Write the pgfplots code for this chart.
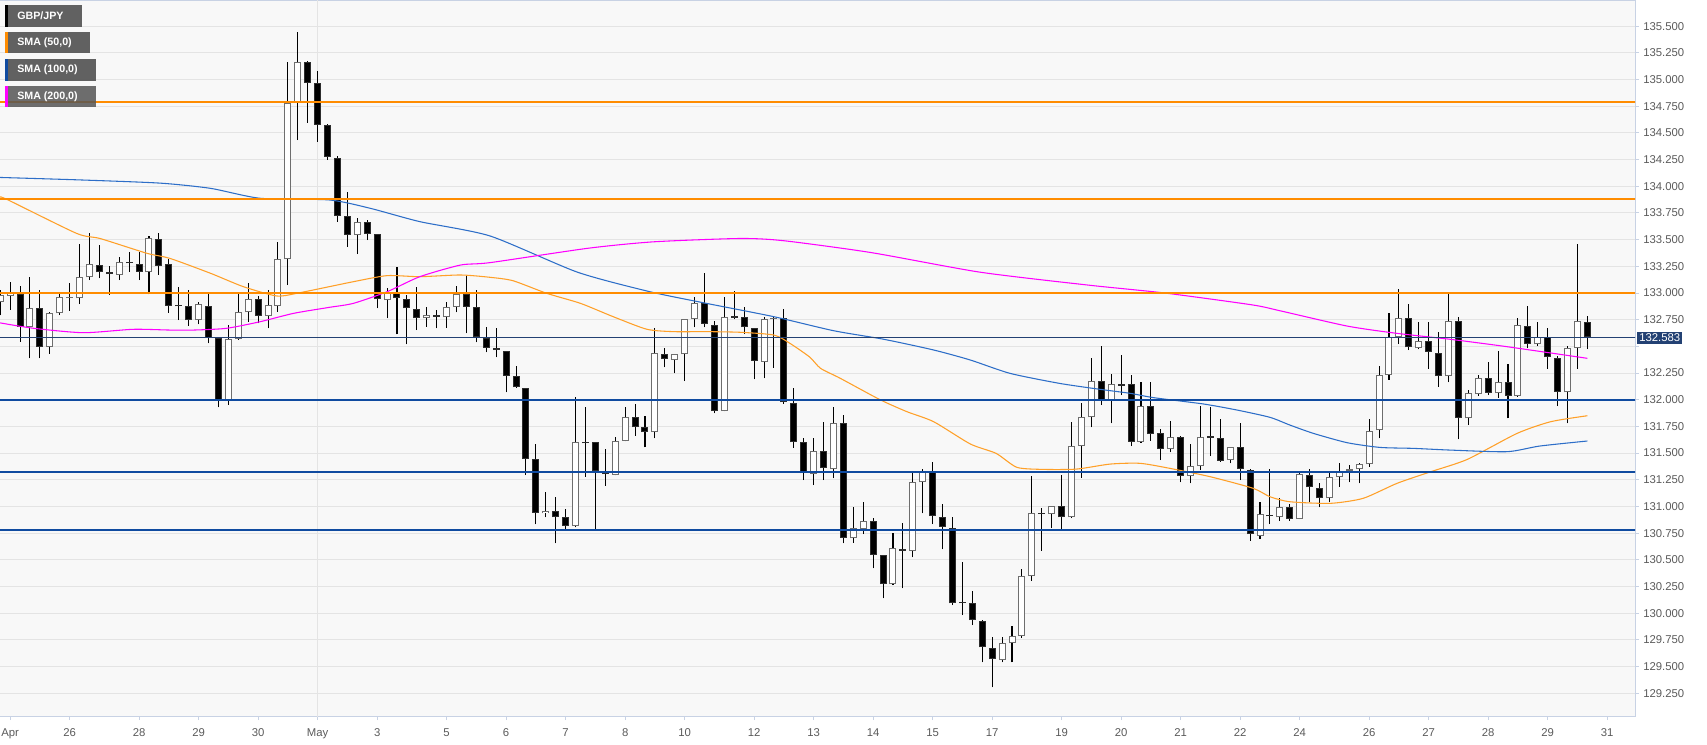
\documentclass[border=0pt]{standalone}
\usepackage{pgfplots}
\pgfplotsset{compat=1.18}
\usepackage{pgfplotstable}
\usepackage{fontspec}
\setmainfont{Liberation Sans}
\definecolor{bgc}{RGB}{248,248,248}
\definecolor{gridc}{RGB}{228,228,228}
\definecolor{bordc}{RGB}{200,210,228}
\definecolor{lvlorange}{RGB}{255,140,0}
\definecolor{lvlblue}{RGB}{16,75,160}
\definecolor{pricenavy}{RGB}{35,65,115}
\definecolor{smaA}{RGB}{255,160,40}
\definecolor{smaB}{RGB}{45,110,200}
\definecolor{smaC}{RGB}{255,0,255}
\definecolor{labc}{RGB}{90,90,90}
\definecolor{legbox}{RGB}{85,85,85}
\definecolor{bodyedge}{RGB}{110,110,110}
\definecolor{bearedge}{RGB}{45,45,45}

\pgfplotstableread{
i O H L C
0 132.920 133.030 132.790 132.980
1 132.975 133.107 132.841 132.997
3 132.685 133.154 132.388 132.857
5 132.498 132.826 132.429 132.810
6 132.810 132.997 132.794 132.960
7 132.952 133.091 132.835 132.967
8 132.950 133.457 132.897 133.147
9 133.147 133.566 133.122 133.269
12 133.169 133.335 133.122 133.294
15 133.194 133.535 132.988 133.513
20 132.747 132.919 132.707 132.894
23 131.988 132.700 131.951 132.566
24 132.566 132.997 132.560 132.819
25 132.819 133.091 132.732 132.944
27 132.785 133.029 132.669 132.888
28 132.882 133.481 132.825 133.316
29 133.316 135.168 133.075 134.784
30 134.784 135.450 134.434 135.168
36 133.543 133.700 133.365 133.662
39 132.934 133.050 132.762 132.996
43 132.762 132.872 132.684 132.793
45 132.772 132.918 132.675 132.872
46 132.872 133.069 132.818 132.987
55 130.935 131.132 130.897 130.960
58 130.816 132.022 130.804 131.607
62 131.297 131.647 131.290 131.616
63 131.616 131.935 131.610 131.835
66 131.694 132.669 131.638 132.435
68 132.372 132.430 132.247 132.425
69 132.425 132.760 132.175 132.756
70 132.756 132.966 132.678 132.903
73 131.894 132.960 131.890 132.772
77 132.356 132.778 132.200 132.753
78 132.753 132.778 132.300 132.769
82 131.303 131.638 131.200 131.522
84 131.350 131.928 131.263 131.778
86 130.700 130.997 130.660 130.794
87 130.788 131.038 130.741 130.866
90 130.269 130.747 130.263 130.607
92 130.585 131.309 130.522 131.231
93 131.225 131.347 130.935 131.325
101 129.560 129.779 129.538 129.716
102 129.716 129.879 129.538 129.785
103 129.785 130.410 129.770 130.347
104 130.347 131.285 130.304 130.935
106 130.929 131.004 130.794 131.004
108 130.897 131.794 130.890 131.569
109 131.569 131.966 131.269 131.834
110 131.834 132.387 131.741 132.175
112 131.991 132.237 131.778 132.144
115 131.606 132.163 131.597 131.941
118 131.538 131.800 131.506 131.653
120 131.288 131.581 131.216 131.381
121 131.378 131.941 131.341 131.653
124 131.435 131.560 131.403 131.560
127 130.726 131.044 130.694 130.925
129 130.897 131.075 130.863 130.997
131 130.882 131.316 130.880 131.300
134 131.076 131.310 131.038 131.278
135 131.278 131.404 131.185 131.335
136 131.333 131.388 131.225 131.348
137 131.347 131.410 131.216 131.397
138 131.394 131.816 131.372 131.710
139 131.716 132.319 131.638 132.232
140 132.232 132.816 132.185 132.591
141 132.591 133.034 132.522 132.763
143 132.481 132.731 132.472 132.553
146 132.222 132.997 132.163 132.737
148 131.825 132.091 131.763 132.060
149 132.053 132.231 132.035 132.206
151 132.060 132.456 132.019 132.169
153 132.038 132.762 132.028 132.700
155 132.519 132.725 132.503 132.591
158 132.069 132.503 131.778 132.488
159 132.488 133.456 132.288 132.737
}\bull

\pgfplotstableread{
i O H L C
2 132.988 133.066 132.544 132.685
4 132.857 133.028 132.388 132.498
10 133.263 133.450 133.138 133.194
11 133.194 133.253 132.982 133.178
13 133.294 133.388 133.200 133.278
14 133.272 133.388 133.122 133.200
16 133.506 133.560 133.169 133.257
17 133.269 133.320 132.816 132.879
18 132.890 133.060 132.747 132.875
19 132.882 133.029 132.691 132.747
21 132.882 132.991 132.529 132.582
22 132.576 132.576 131.929 131.998
26 132.944 132.972 132.716 132.785
31 135.168 135.175 134.597 134.972
32 134.972 135.081 134.419 134.575
33 134.575 134.580 134.247 134.278
34 134.270 134.280 133.668 133.721
35 133.721 133.950 133.434 133.543
37 133.662 133.684 133.496 133.553
38 133.550 133.550 132.856 132.940
40 132.996 133.240 132.612 132.950
41 132.940 132.981 132.519 132.856
42 132.850 133.059 132.653 132.762
44 132.792 132.840 132.669 132.777
47 132.987 133.168 132.622 132.872
48 132.866 133.028 132.537 132.584
49 132.575 132.684 132.444 132.487
50 132.482 132.669 132.397 132.466
51 132.460 132.460 132.069 132.225
52 132.222 132.319 132.110 132.116
53 132.113 132.113 131.294 131.444
54 131.444 131.582 130.832 130.941
56 130.957 131.091 130.654 130.897
57 130.897 130.972 130.788 130.819
59 131.607 131.928 131.278 131.592
60 131.607 131.607 130.785 131.332
61 131.320 131.535 131.194 131.303
64 131.835 131.957 131.663 131.741
65 131.741 131.850 131.554 131.694
67 132.428 132.481 132.303 132.378
71 132.903 133.184 132.678 132.710
72 132.700 132.741 131.872 131.894
74 132.780 133.022 132.753 132.765
75 132.772 132.866 132.616 132.678
76 132.669 132.670 132.191 132.363
79 132.769 132.847 131.960 131.975
80 131.972 132.107 131.550 131.600
81 131.600 131.638 131.247 131.310
83 131.522 131.794 131.247 131.356
85 131.778 131.856 130.653 130.707
88 130.863 130.888 130.419 130.544
89 130.544 130.544 130.138 130.269
91 130.600 130.841 130.232 130.585
94 131.319 131.413 130.835 130.910
95 130.903 131.019 130.597 130.810
96 130.800 130.903 130.075 130.091
97 130.107 130.482 129.982 130.091
98 130.098 130.210 129.888 129.935
99 129.929 129.940 129.538 129.679
100 129.670 129.773 129.304 129.570
105 130.942 130.982 130.585 130.928
107 131.004 131.294 130.788 130.897
111 132.175 132.503 131.950 131.991
113 132.147 132.419 132.044 132.131
114 132.144 132.231 131.566 131.606
116 131.944 132.163 131.616 131.678
117 131.684 131.725 131.435 131.538
119 131.653 131.663 131.225 131.288
122 131.660 131.928 131.472 131.645
123 131.638 131.816 131.420 131.428
125 131.560 131.778 131.247 131.350
126 131.341 131.347 130.679 130.741
128 130.920 131.347 130.835 130.906
130 130.991 131.022 130.866 130.882
132 131.294 131.347 131.038 131.178
133 131.169 131.216 130.991 131.076
142 132.763 132.897 132.466 132.491
144 132.553 132.731 132.288 132.450
145 132.440 132.631 132.122 132.222
147 132.737 132.772 131.628 131.831
150 132.206 132.350 132.044 132.066
152 132.163 132.331 131.825 132.038
154 132.694 132.878 132.481 132.522
156 132.591 132.669 132.288 132.397
157 132.388 132.409 131.941 132.075
160 132.731 132.787 132.475 132.584
}\bear

\pgfplotsset{
  errline/.style 2 args={draw=none, mark=none, forget plot,
    error bars/.cd, y dir=plus, y explicit, error mark=none,
    error bar style={draw=#1, line width=#2, line cap=butt, solid}},
}

\begin{document}
\begin{tikzpicture}
\path[use as bounding box] (0pt,-21pt) rectangle (1280.25pt,537pt);
\begin{axis}[
  at={(0pt,0pt)}, anchor=south west,
  scale only axis, width=1226.25pt, height=537pt,
  xmin=-0.02, xmax=164.8, ymin=129.036, ymax=135.746,
  axis background/.style={fill=bgc},
  axis line style={draw=bordc, line width=0.75pt},
  ymajorgrids, grid style={draw=gridc, line width=0.75pt},
  ytick={129.25,129.5,129.75,130,130.25,130.5,130.75,131,131.25,131.5,131.75,132,132.25,132.5,132.75,133,133.25,133.5,133.75,134,134.25,134.5,134.75,135,135.25,135.5},
  yticklabels={129.250,129.500,129.750,130.000,130.250,130.500,130.750,131.000,131.250,131.500,131.750,132.000,132.250,,132.750,133.000,133.250,133.500,133.750,134.000,134.250,134.500,134.750,135.000,135.250,135.500},
  ytick pos=right, yticklabel pos=right,
  xtick pos=bottom,
  tick align=outside, major tick length=3pt,
  tick style={draw=bordc, line width=0.75pt},
  yticklabel style={anchor=west, inner sep=0pt, xshift=3pt, text=labc, font=\fontsize{8.5}{10}\selectfont},
  xtick={1,7,14,20,26,32,38,45,51,57,63,69,76,82,88,94,100,107,113,119,125,131,138,144,150,156,162},
  xticklabels={Apr,26,28,29,30,May,3,5,6,7,8,10,12,13,14,15,17,19,20,21,22,24,26,27,28,29,31},
  xticklabel style={anchor=north, inner sep=0pt, yshift=-6.5pt, text=labc, font=\fontsize{8.5}{10}\selectfont},
]
% month separator
\addplot[gridc, line width=0.75pt, forget plot] coordinates {(32,129.0) (32,136.0)};

% wicks
\addplot[errline={black}{0.8pt}] table[x=i, y=L, y error plus expr=\thisrow{H}-\thisrow{L}] \bull;
\addplot[errline={black}{0.8pt}] table[x=i, y=L, y error plus expr=\thisrow{H}-\thisrow{L}] \bear;
% bodies
\addplot[errline={bodyedge}{5.25pt}] table[x=i, y=O, y error plus expr=\thisrow{C}-\thisrow{O}] \bull;
\addplot[errline={white}{3.75pt}] table[x=i, y expr=\thisrow{O}+0.0094, y error plus expr={max(\thisrow{C}-\thisrow{O}-0.0188,0)}] \bull;
\addplot[errline={bearedge}{5.25pt}] table[x=i, y=C, y error plus expr=\thisrow{O}-\thisrow{C}] \bear;
\addplot[errline={black}{3.75pt}] table[x=i, y expr=\thisrow{C}+0.0094, y error plus expr={max(\thisrow{O}-\thisrow{C}-0.0188,0)}] \bear;

% SMA 50
\addplot[smaA, line width=0.8pt, smooth, tension=0.4] coordinates {
(0,133.90) (0.8,133.872) (7.7,133.559) (10.1,133.51) (14.8,133.372) (17.1,133.325)
(21.2,133.185) (24.5,133.06) (27.9,132.972) (30.2,133.003) (33.2,133.06) (35.6,133.106)
(39.0,133.163) (42.3,133.153) (46.4,133.169) (49.4,133.147) (51.7,133.115) (55.1,132.997)
(58.5,132.903) (61.8,132.778) (65.2,132.66) (67.9,132.638) (71.2,132.638) (74.6,132.632)
(78.0,132.606) (79.6,132.529) (81.6,132.40) (82.7,132.294) (84.7,132.2) (88.7,132.0)
(91.4,131.888) (94.1,131.794) (97.8,131.585) (100.4,131.497) (102.5,131.366) (105.2,131.347)
(108.5,131.35) (111.9,131.397) (114.9,131.404) (117.9,131.357) (122.0,131.278) (126.3,131.17)
(128.0,131.091) (130.0,131.044) (134.1,131.029) (137.4,131.076) (140.8,131.216) (144.2,131.325)
(147.9,131.441) (152.9,131.684) (156.3,131.794) (160.0,131.85)};
% SMA 100
\addplot[smaB, line width=0.8pt, smooth, tension=0.4] coordinates {
(0,134.083) (8,134.06) (16.1,134.03) (21.2,133.981) (26.2,133.888) (33.2,133.872) (37.3,133.794)
(42.3,133.669) (49.4,133.534) (58.2,133.195) (65.5,133.012) (71.2,132.903) (78.0,132.778)
(84.0,132.647) (89.1,132.566) (94.1,132.466) (97.8,132.372) (101.8,132.247) (106.8,132.153)
(110.9,132.097) (113.9,132.06) (116.3,132.019) (121.3,131.96) (124.7,131.903) (128.0,131.835)
(130.0,131.763) (132.4,131.684) (135.8,131.597) (139.1,131.553) (142.5,131.544) (146.2,131.528)
(151.9,131.513) (155.2,131.566) (160.0,131.613)};
% SMA 200
\addplot[smaC, line width=0.8pt, smooth, tension=0.4] coordinates {
(0,132.72) (3.4,132.669) (8.4,132.628) (13.4,132.66) (17.1,132.653) (19.5,132.653) (22.8,132.669)
(26.2,132.731) (29.6,132.81) (33.2,132.866) (35.6,132.903) (39.0,133.012) (42.3,133.153)
(46.4,133.262) (49.4,133.285) (59.3,133.42) (65.9,133.48) (74.6,133.511) (79.0,133.49)
(87.8,133.379) (98.8,133.195) (109.8,133.073) (117.4,133.0) (126.2,132.889) (129.0,132.834)
(135.8,132.69) (140.8,132.622) (146.2,132.566) (151.9,132.497) (160.0,132.388)};

% horizontal levels
\addplot[lvlorange, line width=1.5pt] coordinates {(-1,134.793) (170,134.793)};
\addplot[lvlorange, line width=1.5pt] coordinates {(-1,133.881) (170,133.881)};
\addplot[lvlorange, line width=1.5pt] coordinates {(-1,133.0) (170,133.0)};
\addplot[lvlblue, line width=1.5pt] coordinates {(-1,132.0) (170,132.0)};
\addplot[lvlblue, line width=1.5pt] coordinates {(-1,131.325) (170,131.325)};
\addplot[lvlblue, line width=1.5pt] coordinates {(-1,130.78) (170,130.78)};
\addplot[pricenavy, line width=0.75pt] coordinates {(-1,132.583) (170,132.583)};

\coordinate (pl) at (axis cs:164.8,132.583);
\end{axis}
\node[anchor=west, fill=pricenavy, text=white, inner sep=1.5pt, font=\fontsize{8.5}{10}\selectfont] at ([xshift=1.5pt]pl) {132.583};

\begin{scope}[x=0.75pt, y=-0.75pt, shift={(0pt,537pt)}]
\fill[legbox, opacity=0.92] (5,5) rectangle (82,27);
\fill[black] (5,5) rectangle (8,27);
\node[anchor=west, text=white, inner sep=0pt, font=\bfseries\fontsize{8}{9}\selectfont] at (17,16) {GBP/JPY};
\fill[legbox, opacity=0.92] (5,32) rectangle (90,53);
\fill[lvlorange] (5,32) rectangle (8,53);
\node[anchor=west, text=white, inner sep=0pt, font=\bfseries\fontsize{8}{9}\selectfont] at (17,42.5) {SMA (50,0)};
\fill[legbox, opacity=0.92] (5,59) rectangle (96,81);
\fill[lvlblue] (5,59) rectangle (8,81);
\node[anchor=west, text=white, inner sep=0pt, font=\bfseries\fontsize{8}{9}\selectfont] at (17,70) {SMA (100,0)};
\fill[legbox, opacity=0.85] (5,86) rectangle (96,107);
\fill[smaC] (5,86) rectangle (8,107);
\node[anchor=west, text=white, inner sep=0pt, font=\bfseries\fontsize{8}{9}\selectfont] at (17,96.5) {SMA (200,0)};
\end{scope}
\end{tikzpicture}
\end{document}
